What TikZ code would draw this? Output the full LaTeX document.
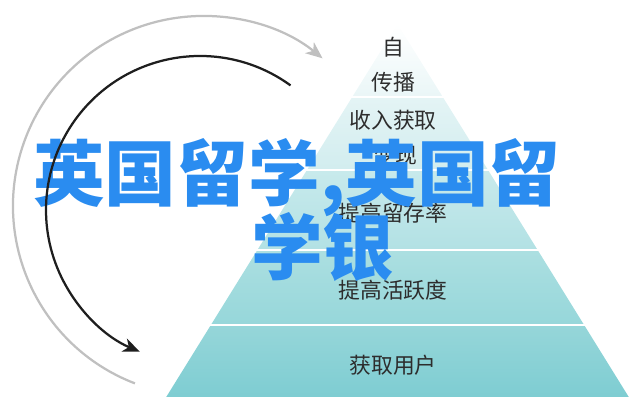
\documentclass[tikz,border=0pt]{standalone}
\usepackage{fontspec}
\usepackage{tikz}
\usetikzlibrary{arrows.meta}
\newfontfamily\cjk{Noto Sans CJK SC}
\definecolor{wmblue}{RGB}{42,140,240}
\definecolor{labgray}{RGB}{45,45,45}
\definecolor{arcgray}{RGB}{192,192,192}
\definecolor{arcblack}{RGB}{30,30,30}
\definecolor{layAt}{RGB}{255,255,255}
\definecolor{layAb}{RGB}{234,246,247}
\definecolor{layBt}{RGB}{228,244,245}
\definecolor{layBb}{RGB}{210,237,239}
\definecolor{layCt}{RGB}{200,234,236}
\definecolor{layCb}{RGB}{178,225,228}
\definecolor{layDt}{RGB}{172,223,225}
\definecolor{layDb}{RGB}{150,215,218}
\definecolor{layEt}{RGB}{150,214,217}
\definecolor{layEb}{RGB}{126,205,210}
\tikzset{
	lab/.style={font=\cjk\fontsize{15.5}{18}\selectfont,text=labgray,inner sep=0pt},
	wm/.style={font=\cjk\bfseries\fontsize{51}{51}\selectfont,text=wmblue,inner sep=0pt,anchor=west},
	ring/.style={line width=1.6pt,-{Stealth[length=12pt,width=10pt,inset=3.5pt]}}
}

\begin{document}
\begin{tikzpicture}[x=0.025cm,y=0.025cm]
			\useasboundingbox (0,0) rectangle (640,412);
			
			\foreach \t/\b/\ct/\cb in {24/97/layAt/layAb,97/170/layBt/layBb,170/250/layCt/layCb,250/325/layDt/layDb,325/397/layEt/layEb}
			\shade[top color=\ct,bottom color=\cb] ({397.5-(\t-24)*0.62},{412-\t}) -- ({397.5+(\t-24)*0.62},{412-\t}) -- ({397.5+(\b-24)*0.62},{412-\b}) -- ({397.5-(\b-24)*0.62},{412-\b}) -- cycle;
			\foreach \y in {97,170,250,325}
			\draw[white,line width=2pt] ({397.5-(\y-24)*0.62-2},{412-\y}) -- ({397.5+(\y-24)*0.62+2},{412-\y});
			
			\node[lab] (zi) at (393,365) {自};
			\node[lab] (chuanbo) at (393,330) {传播};
			\node[lab] (shouru) at (393,292) {收入获取};
			\node[lab] (bianxian) at (395,257) {变现};
			\node[lab] (liucun) at (393,199) {提高留存率};
			\node[lab] (huoyue) at (393,122) {提高活跃度};
			\node[lab] (yonghu) at (393,47) {获取用户};
			
			\node[wm] (wmA) at (33,234) {英国留学,英国留};
			\node[wm] (wmB) at (251,165) {学银};
			
			\draw[ring,arcgray] (203,206) ++(249:190) arc[start angle=249,end angle=51,radius=190];
			\draw[ring,arcblack] (200,202) ++(54:154) arc[start angle=54,end angle=247,radius=154];
\end{tikzpicture}
\end{document}
